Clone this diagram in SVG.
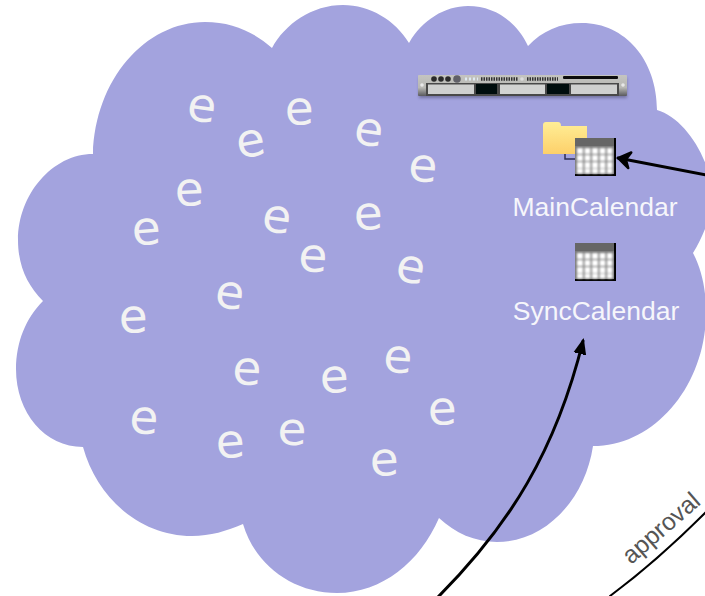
<svg xmlns="http://www.w3.org/2000/svg" width="705" height="596" viewBox="0 0 705 596">
<style>
.e{font-family:"DejaVu Sans",sans-serif;font-size:47px;fill:#f2f2f2;text-anchor:middle;dominant-baseline:central}
.lbl{font-family:"Liberation Sans",Arial,sans-serif;font-size:26.5px;fill:#f6f6fb;text-anchor:middle}
.conn{fill:none;stroke:#000;stroke-linecap:round}
</style>
<defs>
<filter id="b1" x="-10%" y="-10%" width="120%" height="120%"><feGaussianBlur stdDeviation="0.8"/></filter>
<filter id="b2" x="-5%" y="-40%" width="110%" height="180%"><feGaussianBlur stdDeviation="1.6"/></filter>
<filter id="b3" x="-5%" y="-10%" width="110%" height="120%"><feGaussianBlur stdDeviation="0.5"/></filter>
<linearGradient id="fold" x1="0" y1="0" x2="0" y2="1"><stop offset="0" stop-color="#ffee96"/><stop offset="1" stop-color="#fdd06a"/></linearGradient>
<linearGradient id="srv" x1="0" y1="0" x2="0" y2="1"><stop offset="0" stop-color="#c4c4c0"/><stop offset="0.6" stop-color="#b8b8b4"/><stop offset="1" stop-color="#5a5a5e"/></linearGradient>
<marker id="open" markerUnits="userSpaceOnUse" markerWidth="24" markerHeight="24" refX="19" refY="12" orient="auto"><path d="M7 4 L19 12 L7 20 L11 12 Z" fill="#000" stroke="#000" stroke-width="2.400" stroke-linejoin="round"/></marker>
<marker id="solid" markerUnits="userSpaceOnUse" markerWidth="20" markerHeight="20" refX="13" refY="9" orient="auto"><path d="M-4 1 L16 9 L-4 17 Z" fill="#000"/></marker>
<g id="cal">
<rect x="0" y="0" width="41" height="38" fill="#000"/>
<rect x="0" y="0" width="39" height="8" fill="#666"/>
<rect x="0" y="8" width="39" height="28" fill="#7a7a7a"/>
<g fill="#fff" filter="url(#b1)">
<rect x="2" y="10" width="6" height="6"/><rect x="9.500" y="10" width="6" height="6"/><rect x="17" y="10" width="6" height="6"/><rect x="24.500" y="10" width="6" height="6"/><rect x="32" y="10" width="5.500" height="6"/>
<rect x="2" y="17" width="6" height="6"/><rect x="9.500" y="17" width="6" height="6"/><rect x="17" y="17" width="6" height="6"/><rect x="24.500" y="17" width="6" height="6"/><rect x="32" y="17" width="5.500" height="6"/>
<rect x="2" y="24" width="6" height="6"/><rect x="9.500" y="24" width="6" height="6"/><rect x="17" y="24" width="6" height="6"/><rect x="24.500" y="24" width="6" height="6"/><rect x="32" y="24" width="5.500" height="6"/>
<rect x="2" y="30.500" width="6" height="5"/><rect x="9.500" y="30.500" width="6" height="5"/><rect x="17" y="30.500" width="6" height="5"/><rect x="24.500" y="30.500" width="6" height="5"/><rect x="32" y="30.500" width="5.500" height="5"/>
</g>
</g>
</defs>
<rect width="705" height="596" fill="#fff"/>
<g id="cloud">
<path fill="#a3a3de" d="M43 301C27 285 18 265 18 240C18 195 52 154 93 154C95 80 145 22 205 22C232 22 254 32 272 48C285 24 312 5 343 5C370 5 395 20 409 43C422 20 445 6 468 6C495 6 517 22 528 46C542 31 560 23 582 23C625 23 657 60 657 110C685 118 712 160 712 197C712 215 703 237 693 253C702 270 706 290 706 312C706 385 655 446 593 446C585 500 545 542 497 542C475 542 455 533 439 518C420 562 382 593 337 593C293 593 255 565 243 524C227 531 210 536 192 536C140 536 97 498 83 447C45 447 16 413 16 369C16 342 26 318 43 301Z"/>
</g>
<g id="entities">
<text class="e" transform="translate(202 105) rotate(8)">e</text>
<text class="e" transform="translate(250 140) rotate(-10)">e</text>
<text class="e" transform="translate(299 108) rotate(-2)">e</text>
<text class="e" transform="translate(369 129) rotate(8)">e</text>
<text class="e" transform="translate(423 165) rotate(4)">e</text>
<text class="e" transform="translate(189 189) rotate(-2)">e</text>
<text class="e" transform="translate(146 228) rotate(-4)">e</text>
<text class="e" transform="translate(277 216) rotate(8)">e</text>
<text class="e" transform="translate(368 213) rotate(-3)">e</text>
<text class="e" transform="translate(313 255) rotate(3)">e</text>
<text class="e" transform="translate(411 266) rotate(10)">e</text>
<text class="e" transform="translate(230 292) rotate(8)">e</text>
<text class="e" transform="translate(133 316) rotate(-2)">e</text>
<text class="e" transform="translate(247 368) rotate(3)">e</text>
<text class="e" transform="translate(334 376) rotate(-3)">e</text>
<text class="e" transform="translate(398 356) rotate(4)">e</text>
<text class="e" transform="translate(442 408) rotate(-2)">e</text>
<text class="e" transform="translate(144 417) rotate(3)">e</text>
<text class="e" transform="translate(230 441) rotate(-4)">e</text>
<text class="e" transform="translate(292 428) rotate(0)">e</text>
<text class="e" transform="translate(384 459) rotate(-3)">e</text>
</g>
<g id="server">
<rect x="419" y="78" width="208" height="20" fill="#55557a" opacity="0.6" filter="url(#b2)"/>
<g filter="url(#b3)">
<rect x="418" y="75" width="209" height="21" rx="1" fill="url(#srv)"/>
<rect x="426" y="83" width="193" height="13" fill="#4a4a4a"/>
<rect x="428" y="84.500" width="46" height="9.500" fill="#cfd0cf"/>
<rect x="476" y="84" width="21" height="10" fill="#060808"/>
<rect x="500" y="84.500" width="45" height="9.500" fill="#d2d3d2"/>
<rect x="547" y="84" width="22" height="10" fill="#060808"/>
<rect x="571" y="84.500" width="46" height="9.500" fill="#cfd0cf"/>
<rect x="563" y="76" width="55" height="3" rx="1" fill="#111"/>
<path d="M481 79H518M527 79H558" stroke="#333" stroke-width="3.500" stroke-dasharray="1.500 1" fill="none"/>
<path d="M465 79H478" stroke="#dfeaf2" stroke-width="3" stroke-dasharray="2 2" fill="none"/>
<circle cx="522" cy="79" r="1.800" fill="#ddd"/>
<circle cx="434" cy="79" r="2.800" fill="#2a2a2a"/><circle cx="441" cy="79" r="2.800" fill="#2a2a2a"/><circle cx="448" cy="79" r="2.800" fill="#2a2a2a"/><circle cx="457" cy="79" r="3.800" fill="#606068"/>
<circle cx="422" cy="85" r="1.800" fill="#e8e8e8"/><circle cx="623" cy="85" r="1.800" fill="#e8e8e8"/>
</g>
</g>
<g id="MainCalendar">
<path d="M565 154V159H576" fill="none" stroke="#2e2e55" stroke-width="1.500"/>
<path d="M543 154V125Q543 122 546 122H558Q561 122 561 126H587V154Z" fill="url(#fold)" filter="url(#b3)"/>
<use href="#cal" x="575" y="138"/>
<text class="lbl" x="595" y="216">MainCalendar</text>
</g>
<g id="SyncCalendar">
<use href="#cal" x="575" y="243"/>
<text class="lbl" x="596" y="320">SyncCalendar</text>
</g>
<g id="connectors">
<path class="conn" stroke-width="3" marker-end="url(#open)" d="M706 175L618 158"/>
<path class="conn" stroke-width="3" marker-end="url(#solid)" d="M438 597C510 525 556 450 583 341"/>
<path class="conn" stroke-width="2" d="M610 596C645 570 680 538 706 512"/>
</g>
<text id="approval" font-family="Liberation Sans, Arial, sans-serif" font-size="24.500" fill="#555" transform="translate(631 565) rotate(-41)">approval</text>
</svg>
